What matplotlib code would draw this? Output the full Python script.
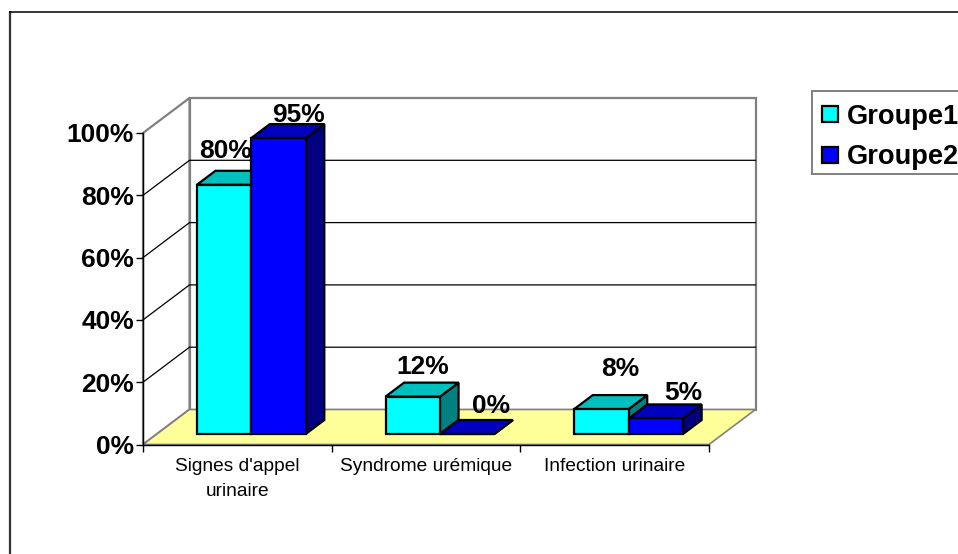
import matplotlib
matplotlib.use('Agg')
import matplotlib.pyplot as plt
from matplotlib.patches import Polygon, Rectangle
from matplotlib.lines import Line2D

plt.rcParams['font.family'] = ['Liberation Sans', 'DejaVu Sans']

categories = ["Signes d'appel\nurinaire", "Syndrome urémique", "Infection urinaire"]
groupe1 = [80, 12, 8]
groupe2 = [95, 0, 5]
series_names = ['Groupe1', 'Groupe2']
y_ticks = [0, 20, 40, 60, 80, 100]

W, H = 958, 554
# front plane of the plot, in pixels
LEFT, RIGHT, BOTTOM, TOP = 143, 709, 444.5, 133

# the labels were dragged by hand in the original, pixel nudges per series
label_nudge = [[(-8, 10), (1, 6), (10, 16)], [(11, -1), (15, 4), (18, 1)]]

fig = plt.figure(figsize=(W / 100, H / 100), dpi=100)
# outer chart frame, open at the right and bottom edges of the image
fig.add_artist(Line2D([10 / W, 10 / W], [0, 1 - 11 / H], color='#333333', lw=1.6, zorder=-1,
                      solid_capstyle='butt'))
fig.add_artist(Line2D([9 / W, 1], [1 - 11.5 / H, 1 - 11.5 / H], color='black', lw=1.1, zorder=-1,
                      solid_capstyle='butt'))

ax = fig.add_axes([LEFT / W, 1 - BOTTOM / H, (RIGHT - LEFT) / W, (BOTTOM - TOP) / H])
ax.set_xlim(0, 3)
ax.set_ylim(0, 100)
ax.patch.set_visible(False)

# depth of the fake 3D box, in data units
DX = 46.5 / ((RIGHT - LEFT) / 3)
DY = 35 / ((BOTTOM - TOP) / 100)


def pt(x, y, z):
    return (x + z * DX, y + z * DY)


def poly(points, fc, ec='black', lw=1.6, zorder=3):
    ax.add_patch(Polygon(points, closed=True, fc=fc, ec=ec, lw=lw, zorder=zorder,
                         clip_on=False, joinstyle='miter'))


# floor and walls
poly([pt(0, 0, 1), pt(3, 0, 1), pt(3, 100, 1), pt(0, 100, 1)], 'white', ec='#808080', lw=1.6, zorder=0)
poly([pt(0, 0, 0), pt(0, 0, 1), pt(0, 100, 1), pt(0, 100, 0)], 'white', ec='#808080', lw=1.6, zorder=0)
poly([pt(0, 0, 0), pt(3, 0, 0), pt(3, 0, 1), pt(0, 0, 1)], '#ffff99', ec='#808080', lw=1.2, zorder=1)
ax.plot(*zip(pt(0, 0, 0), pt(3, 0, 0)), color='black', lw=1, zorder=2, clip_on=False)

# gridlines on the back and side walls
for t in y_ticks[1:-1]:
    ax.plot(*zip(pt(0, t, 0), pt(0, t, 1), pt(3, t, 1)), color='black', lw=0.9, zorder=1, clip_on=False)

colors = [('#00ffff', '#00bfbf', '#008080'), ('#0000ff', '#0000bf', '#000080')]
bar_w = 0.2885
gap = (1 - 2 * bar_w) / 2
z0, z1 = 0.3, 0.7

for i, vals in enumerate([groupe1, groupe2]):
    front, top, side = colors[i]
    for c, v in enumerate(vals):
        x0 = c + gap + i * bar_w
        x1 = x0 + bar_w
        poly([pt(x1, 0, z0), pt(x1, 0, z1), pt(x1, v, z1), pt(x1, v, z0)], side, zorder=3 + i)
        poly([pt(x0, v, z0), pt(x1, v, z0), pt(x1, v, z1), pt(x0, v, z1)], top, zorder=3 + i)
        poly([pt(x0, 0, z0), pt(x1, 0, z0), pt(x1, v, z0), pt(x0, v, z0)], front, zorder=3 + i)
        lx, ly = pt((x0 + x1) / 2, v, 0.5)
        nx, ny = label_nudge[i][c]
        ax.annotate(f'{v}%', (lx, ly), xytext=(nx, 5 + ny), textcoords='offset pixels', ha='center', va='bottom',
                    fontsize=19, fontweight='bold', zorder=8, annotation_clip=False)

for s in ['top', 'right', 'bottom']:
    ax.spines[s].set_visible(False)
ax.spines['left'].set_linewidth(1)
ax.spines['left'].set_zorder(2)

ax.set_yticks(y_ticks)
ax.set_yticklabels([f'{t}%' for t in y_ticks], fontsize=19, fontweight='bold')
ax.tick_params(axis='y', length=5, width=1, pad=1.5)
ax.set_xticks([0, 1, 2, 3])
ax.set_xticklabels([])
ax.tick_params(axis='x', length=5, width=1)
ax.set_xticks([0.5, 1.5, 2.5], minor=True)
ax.set_xticklabels(categories, minor=True, fontsize=13.8, linespacing=1.6)
ax.tick_params(axis='x', which='minor', length=0, pad=10)

# legend box runs off the right edge
fig.add_artist(Rectangle((812 / W, 1 - 174 / H), 200 / W, 83 / H, transform=fig.transFigure,
                         fc='white', ec='#808080', lw=1.4))
for name, (front, _, _), yp, ys in zip(series_names, colors, [116.5, 157.5], [113.5, 155]):
    fig.add_artist(Rectangle((821.5 / W, 1 - (ys + 8) / H), 16 / W, 16 / H, transform=fig.transFigure,
                             fc=front, ec='black', lw=1.6))
    fig.text(847 / W, 1 - yp / H, name, fontsize=19.6, fontweight='bold', va='center', ha='left')

fig.savefig('out.png', dpi=100)
